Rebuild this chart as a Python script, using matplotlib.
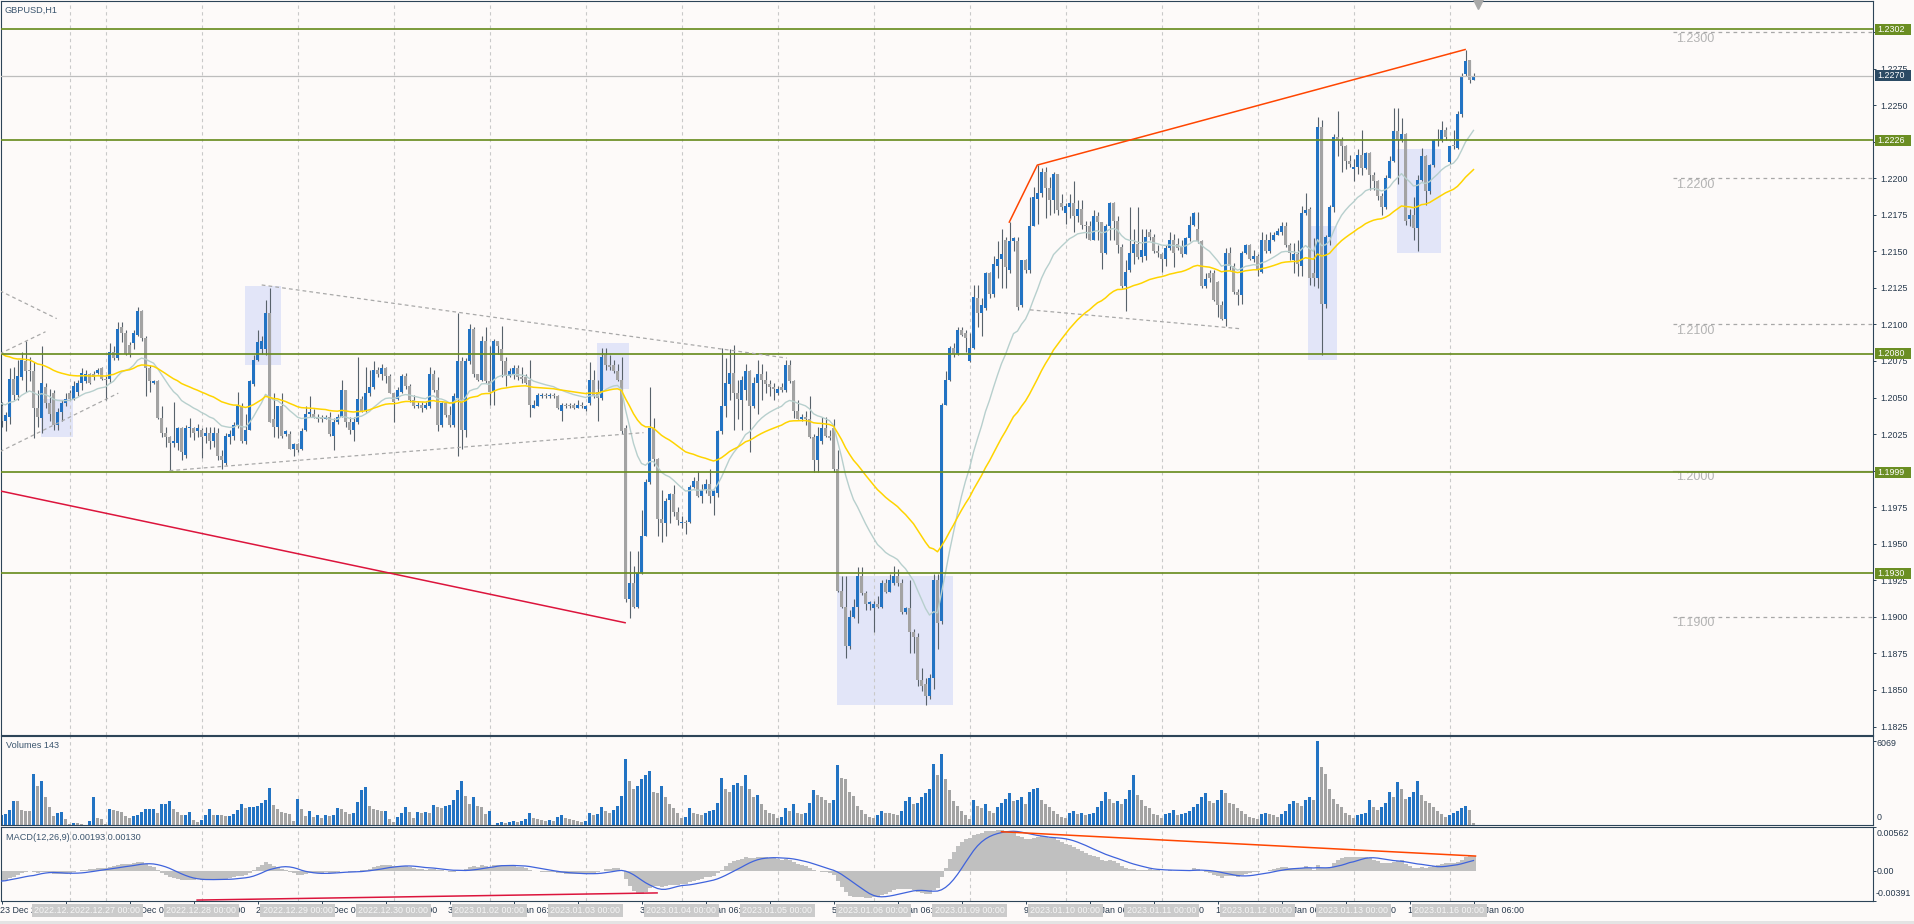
import numpy as np
import pandas as pd
import matplotlib
matplotlib.use("Agg")
import matplotlib.pyplot as plt
from matplotlib.patches import Rectangle
import matplotlib.transforms as mtrans

plt.rcParams['font.family'] = ['Liberation Sans', 'DejaVu Sans']

# ---------------- data (GBPUSD H1) ----------------
opens = [
 1.2044,1.2034,1.2037,1.2063,1.2052,1.2064,1.2075,1.2069,1.2068,1.2043,
 1.2036,1.2057,1.2046,1.2053,1.2031,1.2040,1.2046,1.2053,1.2049,1.2054,
 1.2060,1.2061,1.2066,1.2066,1.2067,1.2070,1.2063,1.2063,1.2081,1.2077,
 1.2098,1.2094,1.2086,1.2087,1.2093,1.2109,1.2091,1.2070,1.2060,1.2061,
 1.2036,1.2026,1.2023,1.2019,1.2019,1.2029,1.2011,1.2029,1.2029,1.2027,
 1.2028,1.2024,1.2026,1.2020,1.2026,1.2010,1.2005,1.2023,1.2024,1.2031,
 1.2044,1.2020,1.2028,1.2059,1.2076,1.2083,1.2083,1.2108,1.2035,1.2030,
 1.2044,1.2025,1.2025,1.2015,1.2018,1.2015,1.2028,1.2039,1.2039,1.2037,
 1.2036,1.2035,1.2037,1.2024,1.2033,1.2037,1.2055,1.2033,1.2028,1.2033,
 1.2049,1.2041,1.2053,1.2057,1.2069,1.2066,1.2070,1.2065,1.2053,1.2049,
 1.2054,1.2065,1.2058,1.2048,1.2044,1.2045,1.2043,1.2044,1.2066,1.2055,
 1.2031,1.2046,1.2038,1.2031,1.2050,1.2075,1.2028,1.2075,1.2097,1.2066,
 1.2062,1.2089,1.2061,1.2054,1.2089,1.2083,1.2075,1.2065,1.2066,1.2070,
 1.2064,1.2064,1.2062,1.2043,1.2044,1.2051,1.2052,1.2051,1.2052,1.2051,
 1.2041,1.2045,1.2045,1.2045,1.2043,1.2045,1.2042,1.2046,1.2062,1.2054,
 1.2050,1.2079,1.2072,1.2072,1.2068,1.2062,1.2029,1.1912,1.1923,1.1907,
 1.1930,1.1955,1.1992,1.2029,1.2008,1.1967,1.1964,1.1980,1.1984,1.1972,
 1.1964,1.1965,1.1965,1.1989,1.1993,1.1983,1.1987,1.1991,1.1983,1.1985,
 1.2027,1.2044,1.2059,1.2067,1.2053,1.2048,1.2055,1.2068,1.2044,1.2060,
 1.2066,1.2062,1.2059,1.2057,1.2053,1.2057,1.2055,1.2072,1.2061,1.2041,
 1.2035,1.2037,1.2035,1.2023,1.2007,1.2020,1.2029,1.2024,1.2029,1.2001,
 1.1918,1.1907,1.1880,1.1900,1.1907,1.1928,1.1916,1.1909,1.1906,1.1909,
 1.1907,1.1923,1.1917,1.1923,1.1928,1.1923,1.1903,1.1906,1.1890,1.1886,
 1.1857,1.1854,1.1846,1.1858,1.1925,1.1897,1.2045,1.2062,1.2084,1.2080,
 1.2096,1.2094,1.2075,1.2084,1.2118,1.2108,1.2111,1.2135,1.2121,1.2140,
 1.2145,1.2158,1.2137,1.2157,1.2157,1.2113,1.2144,1.2137,1.2167,1.2186,
 1.2190,1.2204,1.2193,1.2185,1.2203,1.2183,1.2176,1.2180,1.2183,1.2174,
 1.2179,1.2168,1.2167,1.2158,1.2174,1.2170,1.2149,1.2167,1.2183,1.2171,
 1.2153,1.2126,1.2137,1.2149,1.2155,1.2146,1.2147,1.2163,1.2160,1.2150,
 1.2148,1.2145,1.2152,1.2158,1.2155,1.2153,1.2148,1.2159,1.2168,1.2165,
 1.2157,1.2126,1.2135,1.2135,1.2129,1.2113,1.2104,1.2149,1.2140,1.2122,
 1.2120,1.2149,1.2154,1.2145,1.2147,1.2136,1.2158,1.2150,1.2158,1.2161,
 1.2163,1.2167,1.2154,1.2144,1.2148,1.2140,1.2176,1.2179,1.2135,1.2132,
 1.2235,1.2114,1.2160,1.2180,1.2228,1.2226,1.2222,1.2212,1.2206,1.2208,
 1.2216,1.2207,1.2217,1.2202,1.2198,1.2188,1.2180,1.2200,1.2212,1.2232,
 1.2226,1.2230,1.2172,1.2175,1.2166,1.2199,1.2215,1.2191,1.2209,1.2227,
 1.2226,1.2233,1.2211,1.2223,1.2221,1.2244,1.2271,1.2281,1.2267]
highs = [
 1.2047,1.2040,1.2070,1.2071,1.2076,1.2081,1.2089,1.2078,1.2074,1.2055,
 1.2085,1.2060,1.2056,1.2055,1.2043,1.2048,1.2053,1.2055,1.2061,1.2062,
 1.2070,1.2069,1.2067,1.2068,1.2070,1.2071,1.2065,1.2087,1.2085,1.2102,
 1.2102,1.2096,1.2088,1.2096,1.2112,1.2110,1.2092,1.2072,1.2062,1.2062,
 1.2044,1.2030,1.2024,1.2047,1.2030,1.2030,1.2031,1.2036,1.2030,1.2032,
 1.2029,1.2030,1.2030,1.2030,1.2029,1.2014,1.2026,1.2028,1.2033,1.2054,
 1.2046,1.2039,1.2062,1.2079,1.2096,1.2092,1.2117,1.2125,1.2053,1.2044,
 1.2053,1.2028,1.2027,1.2019,1.2019,1.2029,1.2044,1.2051,1.2042,1.2039,
 1.2038,1.2038,1.2040,1.2036,1.2039,1.2062,1.2055,1.2037,1.2037,1.2078,
 1.2051,1.2071,1.2069,1.2075,1.2071,1.2073,1.2071,1.2066,1.2053,1.2057,
 1.2066,1.2067,1.2059,1.2052,1.2047,1.2047,1.2047,1.2071,1.2069,1.2064,
 1.2047,1.2047,1.2044,1.2053,1.2108,1.2078,1.2077,1.2100,1.2098,1.2066,
 1.2092,1.2098,1.2085,1.2090,1.2089,1.2099,1.2078,1.2070,1.2072,1.2072,
 1.2071,1.2066,1.2076,1.2048,1.2053,1.2053,1.2053,1.2053,1.2053,1.2052,
 1.2046,1.2046,1.2046,1.2046,1.2048,1.2047,1.2045,1.2074,1.2069,1.2062,
 1.2084,1.2084,1.2079,1.2076,1.2073,1.2078,1.2031,1.1945,1.1935,1.1945,
 1.1973,1.1994,1.2057,1.2036,1.2009,1.1987,1.1981,1.1985,1.1990,1.1975,
 1.1969,1.1966,1.1990,1.1996,1.2000,1.1991,1.1994,1.2001,1.1987,1.2028,
 1.2084,1.2077,1.2083,1.2086,1.2062,1.2065,1.2073,1.2069,1.2064,1.2076,
 1.2073,1.2068,1.2062,1.2060,1.2058,1.2060,1.2076,1.2076,1.2062,1.2048,
 1.2039,1.2041,1.2051,1.2025,1.2030,1.2037,1.2037,1.2028,1.2035,1.2014,
 1.1928,1.1928,1.1905,1.1912,1.1934,1.1934,1.1918,1.1911,1.1911,1.1914,
 1.1925,1.1926,1.1929,1.1935,1.1933,1.1926,1.1907,1.1925,1.1892,1.1889,
 1.1865,1.1858,1.1861,1.1929,1.1929,1.2046,1.2068,1.2085,1.2087,1.2098,
 1.2098,1.2096,1.2094,1.2127,1.2127,1.2118,1.2136,1.2136,1.2147,1.2157,
 1.2165,1.2160,1.2170,1.2160,1.2160,1.2144,1.2145,1.2187,1.2194,1.2209,
 1.2207,1.2208,1.2201,1.2204,1.2203,1.2189,1.2183,1.2189,1.2198,1.2185,
 1.2185,1.2171,1.2171,1.2178,1.2177,1.2170,1.2169,1.2184,1.2184,1.2174,
 1.2155,1.2144,1.2180,1.2165,1.2180,1.2165,1.2165,1.2165,1.2162,1.2154,
 1.2149,1.2154,1.2163,1.2162,1.2159,1.2158,1.2160,1.2174,1.2177,1.2177,
 1.2158,1.2135,1.2137,1.2137,1.2130,1.2116,1.2152,1.2153,1.2142,1.2124,
 1.2150,1.2155,1.2155,1.2151,1.2148,1.2163,1.2162,1.2163,1.2163,1.2166,
 1.2170,1.2170,1.2156,1.2156,1.2158,1.2181,1.2190,1.2180,1.2159,1.2242,
 1.2240,1.2161,1.2182,1.2230,1.2246,1.2228,1.2223,1.2216,1.2213,1.2220,
 1.2233,1.2218,1.2218,1.2204,1.2199,1.2190,1.2202,1.2215,1.2248,1.2248,
 1.2241,1.2231,1.2179,1.2187,1.2202,1.2221,1.2216,1.2210,1.2227,1.2234,
 1.2239,1.2235,1.2222,1.2233,1.2246,1.2272,1.2288,1.2281,1.2272]
lows = [
 1.2030,1.2027,1.2032,1.2048,1.2048,1.2062,1.2054,1.2061,1.2022,1.2030,
 1.2026,1.2043,1.2034,1.2028,1.2028,1.2034,1.2044,1.2048,1.2048,1.2051,
 1.2055,1.2060,1.2059,1.2062,1.2066,1.2062,1.2048,1.2060,1.2076,1.2076,
 1.2088,1.2079,1.2078,1.2083,1.2092,1.2089,1.2051,1.2054,1.2059,1.2035,
 1.2023,1.2016,1.2000,1.2016,1.2014,1.2007,1.2009,1.2023,1.2021,1.2023,
 1.2009,1.2019,1.2015,1.2016,1.2007,1.2001,1.2004,1.2018,1.2021,1.2029,
 1.2019,1.2018,1.2028,1.2058,1.2075,1.2080,1.2079,1.2033,1.2023,1.2022,
 1.2022,1.2024,1.2015,1.2010,1.2013,1.2014,1.2027,1.2037,1.2036,1.2033,
 1.2033,1.2035,1.2024,1.2014,1.2032,1.2037,1.2030,1.2025,1.2020,1.2032,
 1.2040,1.2040,1.2051,1.2056,1.2064,1.2062,1.2060,1.2053,1.2033,1.2048,
 1.2053,1.2056,1.2047,1.2043,1.2043,1.2040,1.2042,1.2043,1.2054,1.2027,
 1.2030,1.2037,1.2030,1.2030,1.2010,1.2015,1.2023,1.2073,1.2064,1.2061,
 1.2061,1.2060,1.2045,1.2045,1.2080,1.2064,1.2058,1.2064,1.2063,1.2062,
 1.2060,1.2059,1.2037,1.2043,1.2044,1.2050,1.2050,1.2050,1.2050,1.2042,
 1.2034,1.2043,1.2043,1.2042,1.2043,1.2043,1.2041,1.2045,1.2050,1.2034,
 1.2048,1.2069,1.2069,1.2067,1.2061,1.2025,1.1910,1.1899,1.1906,1.1906,
 1.1929,1.1955,1.1991,1.2003,1.1955,1.1951,1.1955,1.1964,1.1969,1.1963,
 1.1961,1.1957,1.1964,1.1988,1.1982,1.1978,1.1985,1.1978,1.1970,1.1982,
 1.2025,1.2037,1.2048,1.2028,1.2035,1.2028,1.2048,1.2013,1.2043,1.2039,
 1.2048,1.2053,1.2051,1.2048,1.2052,1.2054,1.2054,1.2060,1.2036,1.2035,
 1.2034,1.2031,1.2022,1.1999,1.1999,1.2018,1.2023,1.2021,1.1999,1.1917,
 1.1906,1.1872,1.1878,1.1899,1.1896,1.1915,1.1905,1.1905,1.1890,1.1906,
 1.1906,1.1916,1.1917,1.1922,1.1921,1.1902,1.1902,1.1875,1.1875,1.1853,
 1.1849,1.1840,1.1844,1.1851,1.1878,1.1895,1.2045,1.2061,1.2078,1.2079,
 1.2092,1.2081,1.2074,1.2083,1.2098,1.2092,1.2110,1.2118,1.2119,1.2132,
 1.2125,1.2125,1.2135,1.2150,1.2110,1.2112,1.2135,1.2135,1.2167,1.2169,
 1.2187,1.2173,1.2175,1.2176,1.2175,1.2178,1.2169,1.2173,1.2163,1.2170,
 1.2165,1.2159,1.2158,1.2158,1.2158,1.2138,1.2148,1.2158,1.2158,1.2149,
 1.2125,1.2109,1.2136,1.2141,1.2145,1.2143,1.2144,1.2158,1.2149,1.2146,
 1.2136,1.2140,1.2151,1.2139,1.2151,1.2146,1.2148,1.2157,1.2167,1.2156,
 1.2125,1.2125,1.2129,1.2116,1.2105,1.2103,1.2099,1.2137,1.2121,1.2113,
 1.2114,1.2148,1.2144,1.2143,1.2133,1.2135,1.2149,1.2149,1.2157,1.2161,
 1.2161,1.2153,1.2144,1.2135,1.2133,1.2133,1.2175,1.2127,1.2126,1.2125,
 1.2079,1.2111,1.2154,1.2177,1.2215,1.2204,1.2206,1.2208,1.2198,1.2203,
 1.2202,1.2206,1.2192,1.2192,1.2185,1.2175,1.2179,1.2200,1.2211,1.2196,
 1.2225,1.2168,1.2167,1.2158,1.2150,1.2198,1.2182,1.2189,1.2208,1.2222,
 1.2225,1.2226,1.2210,1.2220,1.2220,1.2242,1.2270,1.2265,1.2267]
closes = [
 1.2034,1.2038,1.2063,1.2052,1.2065,1.2076,1.2068,1.2068,1.2043,1.2037,
 1.2060,1.2046,1.2039,1.2031,1.2040,1.2046,1.2049,1.2049,1.2058,1.2060,
 1.2067,1.2066,1.2060,1.2064,1.2069,1.2063,1.2062,1.2081,1.2077,1.2097,
 1.2094,1.2080,1.2080,1.2094,1.2109,1.2091,1.2070,1.2061,1.2061,1.2036,
 1.2026,1.2023,1.2019,1.2020,1.2029,1.2013,1.2029,1.2030,1.2026,1.2029,
 1.2023,1.2026,1.2020,1.2026,1.2010,1.2007,1.2024,1.2025,1.2031,1.2044,
 1.2020,1.2028,1.2061,1.2076,1.2088,1.2089,1.2108,1.2033,1.2030,1.2044,
 1.2024,1.2027,1.2015,1.2018,1.2014,1.2027,1.2039,1.2040,1.2037,1.2035,
 1.2035,1.2037,1.2025,1.2033,1.2037,1.2055,1.2033,1.2028,1.2033,1.2049,
 1.2041,1.2053,1.2057,1.2069,1.2066,1.2070,1.2065,1.2053,1.2047,1.2055,
 1.2065,1.2058,1.2048,1.2044,1.2045,1.2043,1.2045,1.2066,1.2055,1.2031,
 1.2046,1.2038,1.2031,1.2051,1.2075,1.2028,1.2075,1.2097,1.2066,1.2062,
 1.2089,1.2061,1.2054,1.2089,1.2085,1.2075,1.2065,1.2068,1.2070,1.2064,
 1.2063,1.2060,1.2045,1.2045,1.2052,1.2052,1.2051,1.2052,1.2051,1.2043,
 1.2045,1.2044,1.2044,1.2043,1.2045,1.2044,1.2044,1.2062,1.2051,1.2050,
 1.2078,1.2072,1.2071,1.2068,1.2062,1.2027,1.1912,1.1923,1.1907,1.1930,
 1.1955,1.1992,1.2029,1.2008,1.1967,1.1964,1.1979,1.1984,1.1972,1.1966,
 1.1965,1.1964,1.1989,1.1993,1.1983,1.1987,1.1991,1.1983,1.1986,1.2027,
 1.2044,1.2060,1.2067,1.2053,1.2049,1.2062,1.2068,1.2044,1.2060,1.2066,
 1.2062,1.2059,1.2057,1.2056,1.2056,1.2055,1.2072,1.2061,1.2041,1.2035,
 1.2037,1.2035,1.2023,1.2007,1.2024,1.2029,1.2024,1.2022,1.2001,1.1918,
 1.1907,1.1880,1.1900,1.1907,1.1928,1.1916,1.1909,1.1910,1.1909,1.1907,
 1.1923,1.1917,1.1925,1.1928,1.1923,1.1903,1.1906,1.1890,1.1886,1.1857,
 1.1853,1.1846,1.1858,1.1925,1.1896,1.2045,1.2062,1.2084,1.2080,1.2096,
 1.2093,1.2091,1.2084,1.2119,1.2108,1.2113,1.2135,1.2121,1.2141,1.2145,
 1.2148,1.2139,1.2157,1.2159,1.2112,1.2144,1.2137,1.2167,1.2187,1.2190,
 1.2204,1.2193,1.2185,1.2203,1.2178,1.2180,1.2181,1.2183,1.2174,1.2179,
 1.2168,1.2167,1.2158,1.2174,1.2170,1.2149,1.2167,1.2183,1.2171,1.2154,
 1.2126,1.2136,1.2149,1.2155,1.2146,1.2151,1.2160,1.2160,1.2150,1.2149,
 1.2145,1.2152,1.2158,1.2149,1.2152,1.2148,1.2159,1.2168,1.2176,1.2157,
 1.2126,1.2131,1.2132,1.2117,1.2113,1.2104,1.2149,1.2140,1.2122,1.2120,
 1.2149,1.2154,1.2145,1.2147,1.2137,1.2158,1.2150,1.2158,1.2161,1.2164,
 1.2167,1.2154,1.2149,1.2148,1.2141,1.2176,1.2178,1.2132,1.2132,1.2235,
 1.2114,1.2160,1.2180,1.2228,1.2226,1.2222,1.2212,1.2210,1.2208,1.2216,
 1.2207,1.2217,1.2202,1.2198,1.2188,1.2180,1.2200,1.2212,1.2232,1.2226,
 1.2230,1.2171,1.2175,1.2166,1.2199,1.2215,1.2191,1.2209,1.2226,1.2226,
 1.2233,1.2228,1.2222,1.2222,1.2244,1.2270,1.2280,1.2267,1.2270]
volumes = [
 730,780,1070,1700,1700,1100,1020,1020,3650,2850,
 3150,2000,1310,660,880,920,410,50,150,150,
 100,20,290,2040,510,440,50,1170,1100,1020,
 920,630,490,630,700,970,1170,1180,1190,880,
 1510,1520,1700,1190,950,730,740,970,390,220,
 340,730,1140,730,740,730,630,640,780,1070,
 1510,1260,1270,1280,1390,1560,1800,2680,1460,1140,
 950,850,780,290,1900,1170,660,1020,580,730,
 530,700,680,730,1220,1140,970,830,840,1680,
 2530,2770,1390,1140,1070,1020,1030,440,240,580,
 900,1310,970,530,970,850,970,850,1460,1310,
 1260,1360,1430,1800,2530,3150,2110,1510,2000,1340,
 1290,830,1020,20,150,
 200,150,250,300,250,300,400,900,500,400,350,300,350,300,600,700,500,400,350,300,250,
 300,900,700,800,1300,1000,900,1100,1400,2100,4800,3200,2600,2800,3300,3600,3900,2400,2300,2800,2000,1500,1200,900,
 500,600,1200,900,800,700,900,1000,1100,1600,3400,2600,2400,2900,3000,2800,3600,2600,2000,2200,1500,1100,900,800,
 500,600,1200,1000,1500,900,800,900,1600,2500,2200,2000,1800,1600,1800,4300,3400,3300,2400,2100,1400,1100,800,600,
 500,700,1000,900,900,800,700,1000,1700,2000,1500,1600,2000,2300,2600,4400,3600,5100,3300,2500,1700,1400,1000,700,
 400,1800,1400,1200,1500,1000,900,1300,1600,1900,2300,1700,1800,2000,1500,2400,2600,2700,1800,1500,1300,1000,800,600,
 500,900,1000,800,900,700,800,900,1300,1700,2400,1900,1600,1700,1500,1900,2500,3600,2200,1800,1400,1200,800,700,
 500,800,900,1100,700,800,900,1000,1300,1500,2000,2300,1700,1600,1800,2500,2300,1600,1500,1200,1000,800,600,500,
 400,800,900,800,700,600,800,1000,1500,1700,1600,1400,1800,2000,1800,6069,4200,3700,2600,1900,1500,1300,900,700,
 500,700,800,900,1800,1300,1100,1300,1600,2400,2000,3100,2600,1900,2000,2400,3200,2200,1700,1600,1300,1000,800,600,
 700,900,1000,1200,1400,1100,143]

# indicator parameters / start values
ma_fast_period, ma_fast_start = 20, 1.2047
ma_slow_period, ma_slow_start = 50, 1.2082
macd_fast_start, macd_slow_start = 1.2040, 1.2054

# levels and annotations
level_lines = [1.2302, 1.2226, 1.2080, 1.1999, 1.1930]
current_price = 1.2270
round_levels = [1.2300, 1.2200, 1.2100, 1.2000, 1.1900]
price_ticks = [1.1825, 1.1850, 1.1875, 1.1900, 1.1925, 1.1950, 1.1975, 1.2000, 1.2025,
               1.2050, 1.2075, 1.2100, 1.2125, 1.2150, 1.2175, 1.2200, 1.2225, 1.2250,
               1.2275, 1.2300]
highlight_boxes = [(9.9, 17.8, 1.2023, 1.2049), (60.9, 69.9, 1.2072, 1.2126),
                   (148.8, 156.9, 1.2056, 1.2087), (208.8, 237.8, 1.1840, 1.1928),
                   (326.7, 333.8, 1.2076, 1.2167), (348.8, 359.9, 1.2149, 1.2220)]
red_trend = ([251.95, 258.95, 365.9], [1.2170, 1.2209, 1.2288])
crimson_trend = ([-0.125, 155.9], [1.1986, 1.1896])
dashed_trends = [([-0.4, 13.8], [1.2123, 1.2104]),
                 ([-0.4, 11.0], [1.2080, 1.2095]),
                 ([-0.4, 29.2], [1.2013, 1.2053]),
                 ([65.05, 196.3], [1.2127, 1.2077]),
                 ([42.0, 160.5], [1.2000, 1.2026]),
                 ([257.1, 310.0], [1.2110, 1.2097])]
macd_low_line = ([48.9, 163.9], [-0.00379, -0.00287])
macd_high_line = ([250.0, 368.5], [0.00501, 0.00188])

separator_idx = [17, 26, 50, 74, 98, 122, 146, 170, 194, 218, 242, 266, 290, 314, 338, 362]
separator_labels = ["2022.12.26 00:00", "2022.12.27 00:00", "2022.12.28 00:00", "2022.12.29 00:00",
                    "2022.12.30 00:00", "2023.01.02 00:00", "2023.01.03 00:00", "2023.01.04 00:00",
                    "2023.01.05 00:00", "2023.01.06 00:00", "2023.01.09 00:00", "2023.01.10 00:00",
                    "2023.01.11 00:00", "2023.01.12 00:00", "2023.01.13 00:00", "2023.01.16 00:00"]
time_tick_idx = list(range(0, 369, 16))
time_tick_labels = ["23 Dec 2022", "23 Dec 23:00", "27 Dec 06:00", "27 Dec 22:00", "28 Dec 14:00",
                    "29 Dec 06:00", "29 Dec 22:00", "30 Dec 14:00", "2 Jan 06:00", "2 Jan 22:00",
                    "3 Jan 14:00", "4 Jan 06:00", "4 Jan 22:00", "5 Jan 14:00", "6 Jan 06:00",
                    "6 Jan 22:00", "9 Jan 14:00", "10 Jan 06:00", "10 Jan 22:00", "11 Jan 14:00",
                    "12 Jan 06:00", "12 Jan 22:00", "13 Jan 14:00", "16 Jan 06:00"]
vol_max_label, vol_min_label = "6069", "0"
macd_labels = ["0.00562", "0.00", "-0.00391"]
title_text = "GBPUSD,H1"
vol_text = "Volumes 143"
macd_text = "MACD(12,26,9) 0.00193 0.00130"

# ---------------- styling ----------------
W, H = 1915, 924
BG = '#fdfaf9'
AXC = '#2d4458'
TXT = '#26384c'
BLUE = '#2273c3'
GRAY = '#a3a3a3'
WICK = '#58626b'
GREEN = '#6b8e23'

fig = plt.figure(figsize=(W / 100, H / 100), dpi=100, facecolor=BG)


def prect(x0, y0, x1, y1):
    return [x0 / W, 1 - y1 / H, (x1 - x0) / W, (y1 - y0) / H]


ax = fig.add_axes(prect(1, 1, 1873, 735))
axv = fig.add_axes(prect(1, 736, 1873, 825))
axm = fig.add_axes(prect(1, 827, 1873, 901))

n = len(closes)
x = np.arange(n)
o = np.array(opens)
c = np.array(closes)
h = np.maximum.reduce([np.array(highs), o, c])
l = np.minimum.reduce([np.array(lows), o, c])

XL = (-0.125, 467.875)
for a in (ax, axv, axm):
    a.set_facecolor(BG)
    a.set_xlim(*XL)
    for s in a.spines.values():
        s.set_color(AXC)
        s.set_linewidth(0.8)
    a.tick_params(axis='x', bottom=False, labelbottom=False)
    a.yaxis.tick_right()
    for sx in separator_idx:
        a.axvline(sx, color='#c9c9c9', lw=0.8, ls=(0, (3, 3)), zorder=0.8)

# ---------------- main price panel ----------------
YB, YT = 1.181922, 1.232120
ax.set_ylim(YB, YT)
ax.set_yticks(price_ticks)
ax.set_yticklabels([f"{t:.4f}" for t in price_ticks])
ax.tick_params(axis='y', length=2.2, width=0.7, color=AXC, labelcolor=TXT, labelsize=6.4, pad=2.9)

for (i0, i1, p0, p1) in highlight_boxes:
    ax.add_patch(Rectangle((i0, p0), i1 - i0, p1 - p0, fc='#e2e5f8', ec='none', zorder=0.5))

# round number levels on the right
for lv in round_levels:
    ax.plot([417.9, XL[1]], [lv, lv], color='#a8a8a8', lw=0.9,
            ls='-' if abs(lv - 1.2) < 1e-9 else (0, (3, 3)), zorder=0.9)
    ax.text(418.6, lv - 0.00004, f"{lv:.4f}", color='#b3b3b3', fontsize=9, va='top', ha='left', zorder=0.9)

up = c > o
body_col = np.where(up, BLUE, GRAY)
ax.vlines(x, l, h, color=WICK, lw=0.8, zorder=2)
ax.bar(x, np.maximum(np.abs(c - o), 0.00004), bottom=np.minimum(o, c), width=0.75,
       color=body_col, linewidth=0, zorder=2.5)

ma_fast = pd.Series([ma_fast_start] + closes).ewm(span=ma_fast_period, adjust=False).mean().values[1:]
ma_slow = pd.Series([ma_slow_start] + closes).ewm(span=ma_slow_period, adjust=False).mean().values[1:]
ax.plot(x, ma_fast, color='#b7cfcd', lw=1.0, zorder=3)
ax.plot(x, ma_slow, color='#ffd400', lw=1.1, zorder=3)

for lv in level_lines:
    ax.axhline(lv, color=GREEN, lw=1.25, zorder=3.5)
ax.axhline(current_price, color='#bdbdbd', lw=0.9, zorder=3.4)

ax.plot(*red_trend, color='#ff4500', lw=1.1, zorder=4)
ax.plot(*crimson_trend, color='#dc143c', lw=1.1, zorder=4)
for xs, ys in dashed_trends:
    ax.plot(xs, ys, color='#a9a9a9', lw=0.9, ls=(0, (3, 2.5)), zorder=4)

# price boxes on the axis
tr = mtrans.blended_transform_factory(ax.transAxes, ax.transData)
ppx = 734 / (YT - YB)
for val, col in [(v, GREEN) for v in level_lines] + [(current_price, '#2b4a64')]:
    hh = 5.5 / ppx
    ax.add_patch(Rectangle((1 + 2 / 1872, val - hh), 36 / 1872, 2 * hh, transform=tr,
                           fc=col, ec='none', clip_on=False, zorder=10))
    ax.text(1 + 4 / 1872, val, f"{val:.4f}", transform=tr, color='white', fontsize=6.4,
            va='center', ha='left', clip_on=False, zorder=11)

fig.text(5 / W, 1 - 10.5 / H, title_text, color='#3b556e', fontsize=6.6, va='center', ha='left')
ax.plot([369.1], [1 - 3.5 / 734], transform=mtrans.blended_transform_factory(ax.transData, ax.transAxes),
        marker='v', ms=7, color='#a8a8a8', clip_on=False, zorder=12)

# ---------------- volumes ----------------
vols = np.array(volumes, dtype=float)
vcol = [BLUE] + [BLUE if vols[k] > vols[k - 1] else GRAY for k in range(1, n)]
axv.bar(x, vols, width=0.7, color=vcol, linewidth=0, zorder=2)
axv.set_ylim(0, 6069 * 89 / 84)
axv.set_yticks([6069])
axv.tick_params(axis='y', length=2.2, width=0.7, color=AXC, labelright=False)
fig.text(6 / W, 1 - 746 / H, vol_text, color='#3b556e', fontsize=6.6, va='center', ha='left')
fig.text(1877 / W, 1 - 743 / H, vol_max_label, color=TXT, fontsize=6.4, va='center', ha='left')
fig.text(1877 / W, 1 - 818 / H, vol_min_label, color=TXT, fontsize=6.4, va='center', ha='left')

# ---------------- MACD ----------------
ef = pd.Series([macd_fast_start] + closes).ewm(span=12, adjust=False).mean().values[1:]
es = pd.Series([macd_slow_start] + closes).ewm(span=26, adjust=False).mean().values[1:]
macd_main = ef - es
macd_signal = pd.Series(macd_main).rolling(9, min_periods=1).mean().values
axm.bar(x, macd_main, width=1.0, color='#c0c0c0', linewidth=0, zorder=2)
axm.plot(x, macd_signal, color='#3f63dc', lw=0.9, zorder=3)
axm.plot(*macd_low_line, color='#dc143c', lw=1.1, zorder=4)
axm.plot(*macd_high_line, color='#ff4500', lw=1.1, zorder=4)
axm.set_ylim(-0.00391, 0.00562)
axm.set_yticks([0.00562, 0.0, -0.00391])
axm.tick_params(axis='y', length=2.2, width=0.7, color=AXC, labelright=False)
fig.text(6 / W, 1 - 837 / H, macd_text, color='#3b556e', fontsize=6.6, va='center', ha='left')
for lab, ypx, xpx in zip(macd_labels, [834, 872, 894], [1877, 1877, 1876]):
    fig.text(xpx / W, 1 - ypx / H, lab, color=TXT, fontsize=6.4, va='center', ha='left')

# time axis: regular labels partly covered by the day-separator boxes (as in the terminal)
axm.set_xticks(time_tick_idx)
axm.tick_params(axis='x', bottom=True, length=2.2, width=0.7, color=AXC, labelbottom=False)
trx = mtrans.blended_transform_factory(axm.transData, axm.transAxes)
ylab = -9.5 / 74
for ti, lab in zip(time_tick_idx, time_tick_labels):
    axm.text(ti - 0.4, ylab, lab, transform=trx, color=TXT, fontsize=6.4, va='center', ha='left',
             clip_on=False, zorder=5)
for k, (si, lab) in enumerate(zip(separator_idx, separator_labels)):
    axm.text(si, ylab, lab, transform=trx, color='#f6f6f6', fontsize=6.4, va='center', ha='center',
             clip_on=False, zorder=6 + k * 0.01,
             bbox=dict(boxstyle='square,pad=0.28', fc='#cbcbcb', ec='none'))

fig.patches.append(Rectangle((0, 0), 1, 3 / H, transform=fig.transFigure, fc='#e4e4e4', ec='none'))

fig.savefig('out.png', dpi=100, facecolor=BG)
